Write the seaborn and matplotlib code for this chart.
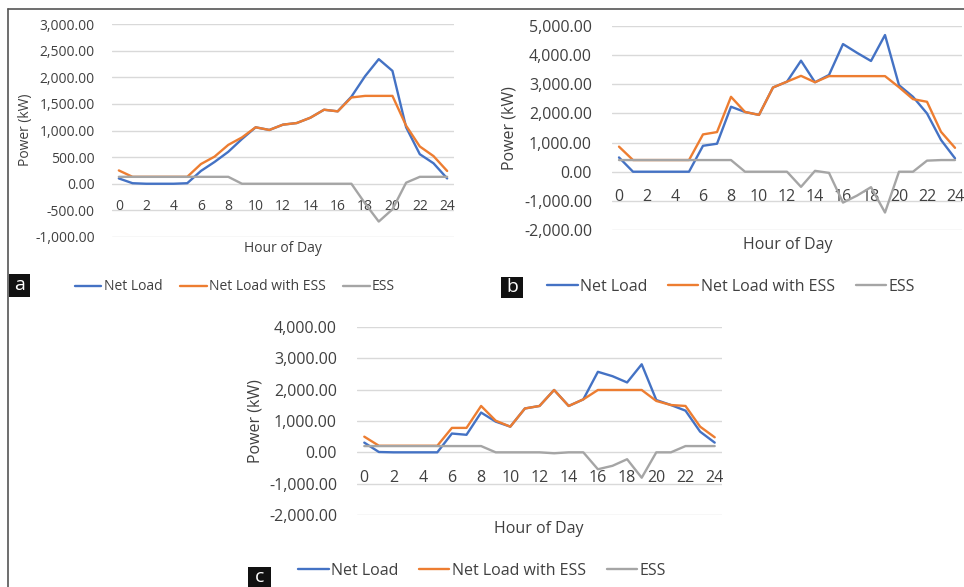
import matplotlib
matplotlib.use("Agg")
import numpy as np
import pandas as pd
import seaborn as sns
from matplotlib import pyplot as plt
from matplotlib.lines import Line2D
from matplotlib.patches import Rectangle

sns.set_theme(style="white")
plt.rcParams["font.family"] = ["Open Sans", "DejaVu Sans"]

####################################
# data
####################################
hours = list(range(25))
series_names = ["Net Load", "Net Load with ESS", "ESS"]
colors = ["#4472C4", "#ED7D31", "#A5A5A5"]

# panel a
a_net = [100, 10, 0, 0, 0, 10, 240, 410, 600, 840, 1060, 1010, 1110, 1140, 1240,
         1390, 1360, 1635, 2020, 2340, 2120, 1060, 555, 385, 100]
a_ess_load = [250, 130, 130, 130, 130, 130, 370, 510, 730, 870, 1060, 1010, 1110, 1140, 1240,
              1390, 1360, 1620, 1650, 1650, 1650, 1090, 700, 520, 240]
a_ess = [130, 130, 130, 130, 130, 130, 130, 130, 130, 0, 0, 0, 0, 0, 0,
         0, 0, 0, -370, -710, -480, 20, 130, 130, 130]

# panel b
b_net = [490, 0, 0, 0, 0, 0, 890, 960, 2230, 2050, 1950, 2890, 3090, 3810, 3070,
         3320, 4380, 4080, 3800, 4690, 2970, 2570, 2000, 1090, 460]
b_ess_load = [860, 400, 400, 400, 400, 400, 1280, 1360, 2570, 2050, 1950, 2890, 3090, 3290, 3070,
              3280, 3280, 3280, 3280, 3280, 2900, 2490, 2400, 1370, 820]
b_ess = [400, 400, 400, 400, 400, 400, 400, 400, 400, 0, 0, 0, 0, -520, 30,
         -40, -1060, -820, -530, -1400, 0, 0, 380, 400, 400]

# panel c
c_net = [310, 10, 0, 0, 0, 0, 600, 560, 1270, 980, 820, 1400, 1480, 1990, 1480,
         1690, 2570, 2430, 2230, 2810, 1670, 1510, 1330, 660, 310]
c_ess_load = [500, 210, 210, 210, 210, 210, 780, 780, 1480, 1010, 820, 1400, 1480, 1990, 1480,
              1690, 1990, 1990, 1990, 1990, 1640, 1510, 1480, 820, 480]
c_ess = [200, 200, 200, 200, 200, 200, 200, 200, 200, 0, 0, 0, 0, -30, 0,
         0, -540, -430, -220, -810, 0, 0, 200, 200, 200]

y_ticks_a = [-1000, -500, 0, 500, 1000, 1500, 2000, 2500, 3000]
y_ticks_b = [-2000, -1000, 0, 1000, 2000, 3000, 4000, 5000]
y_ticks_c = [-2000, -1000, 0, 1000, 2000, 3000, 4000]

####################################
# layout helpers (pixel coords)
####################################
W, H = 964, 587
fig = plt.figure(figsize=(W / 100, H / 100), dpi=100)


def fx(x):
    return x / W


def fy(y):
    return 1 - y / H


def make_axes(l, r, t, b):
    return fig.add_axes([fx(l), fy(b), fx(r) - fx(l), fy(t) - fy(b)])


TXT = "#404040"
GRID = "#d9d9d9"


def draw_panel(ax, net, with_ess, ess, yticks, fs, ylab_xy, xlab_xy, leg_xy, letter, box):
    df = pd.DataFrame({
        "hour": hours * 3,
        "kW": net + with_ess + ess,
        "series": np.repeat(series_names, len(hours)),
    })
    sns.lineplot(data=df, x="hour", y="kW", hue="series", hue_order=series_names,
                 palette=colors, linewidth=1.7, legend=False, ax=ax)
    ax.set_xlim(-0.5, 24.5)
    ax.set_ylim(yticks[0], yticks[-1])
    ax.set_yticks(yticks)
    ax.set_yticklabels([f"{v:,.2f}" for v in yticks])
    ax.set_xticks(range(0, 25, 2))
    ax.set_xticklabels([str(v) for v in range(0, 25, 2)])
    for v in yticks:
        ax.axhline(v, color=GRID, linewidth=1.0, zorder=0)
    for s in ["top", "right", "left", "bottom"]:
        ax.spines[s].set_visible(False)
    ax.tick_params(axis="y", length=0, pad=fs * 1.25, labelsize=fs, colors=TXT)
    ax.tick_params(axis="x", length=0, pad=fs * 1.1, labelsize=fs, colors=TXT)
    ax.spines["bottom"].set_position(("data", 0))
    ax.set_xlabel("")
    ax.set_ylabel("")
    ax.set_facecolor("none")

    fig.text(fx(ylab_xy[0]), fy(ylab_xy[1]), "Power (kW)", rotation=90,
             ha="center", va="center", fontsize=fs, color=TXT)
    fig.text(fx(xlab_xy[0]), fy(xlab_xy[1]), "Hour of Day",
             ha="center", va="center", fontsize=fs, color=TXT)

    handles = [Line2D([0], [0], color=c, linewidth=1.7) for c in colors]
    fig.legend(handles, series_names, loc="center", ncol=3,
               bbox_to_anchor=(fx(leg_xy[0]), fy(leg_xy[1])), frameon=False,
               fontsize=fs, labelcolor=TXT, handlelength=1.9, handletextpad=0.15,
               columnspacing=1.3, borderpad=0, borderaxespad=0)

    x0, y0, x1, y1 = box
    fig.add_artist(Rectangle((fx(x0), fy(y1)), fx(x1) - fx(x0), fy(y0) - fy(y1),
                             transform=fig.transFigure, facecolor="#111111",
                             edgecolor="none"))
    fig.text(fx((x0 + x1) / 2), fy((y0 + y1) / 2), letter, ha="center",
             va="center", fontsize=14, color="white")


####################################
# panels
####################################
ax_a = make_axes(112, 454, 24, 237)
draw_panel(ax_a, a_net, a_ess_load, a_ess, y_ticks_a, 10,
           (25, 130), (283, 249), (235, 287), "a", (9, 274, 30, 297))

ax_b = make_axes(612, 962, 26, 230)
draw_panel(ax_b, b_net, b_ess_load, b_ess, y_ticks_b, 11.5,
           (510, 128), (788, 245), (731, 287), "b", (501, 277, 523, 298))

ax_c = make_axes(357, 722, 327, 515)
draw_panel(ax_c, c_net, c_ess_load, c_ess, y_ticks_c, 11.5,
           (255, 421), (539, 529), (482, 571), "c", (248, 567, 271, 587))

# frame lines of the composite figure
fig.add_artist(Line2D([fx(8), fx(964)], [fy(9), fy(9)], color="#555555",
                      linewidth=1.2, transform=fig.transFigure))
fig.add_artist(Line2D([fx(8), fx(8)], [fy(9), fy(587)], color="#555555",
                      linewidth=1.2, transform=fig.transFigure))

fig.savefig("out.png", dpi=100)
